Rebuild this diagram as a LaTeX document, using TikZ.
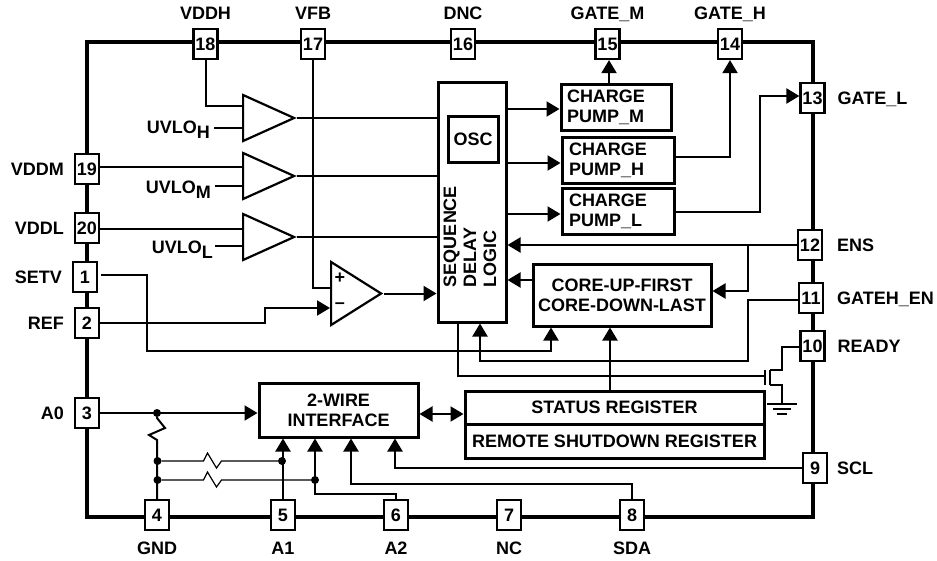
\documentclass[tikz,border=0pt]{standalone}
\usepackage{fontspec}
\setmainfont{Liberation Sans}
\usepackage{tikz}
\usetikzlibrary{shapes.geometric, arrows.meta, positioning}
\tikzstyle{chipbox} = [rectangle, minimum width=726pt, minimum height=475pt, draw=black, line width=3.2pt]
\tikzstyle{pinbox} = [rectangle, minimum width=24pt, minimum height=30pt, inner sep=0pt, text centered, draw=black, line width=2.2pt, fill=white]
\tikzstyle{pinlabel} = [inner sep=0pt, text height=13pt, text depth=0pt]
\tikzstyle{uvlolabel} = [inner sep=0pt, anchor=base east]
\tikzstyle{block} = [rectangle, inner sep=0pt, align=center, draw=black, line width=3pt, fill=white]
\tikzstyle{pumpblock} = [block, minimum width=110pt, minimum height=46pt, text width=98pt, align=left]
\tikzstyle{amp} = [isosceles triangle, isosceles triangle stretches, shape border rotate=0, minimum width=46pt, minimum height=51pt, inner sep=0pt, draw=black, line width=2.2pt, fill=white]
\tikzstyle{wire} = [line width=2pt]
\tikzstyle{thinwire} = [line width=1.2pt]
\tikzstyle{arrow} = [wire,-{Triangle[width=15pt,length=13pt]}]
\tikzstyle{dblarrow} = [wire,{Triangle[width=15pt,length=13pt]}-{Triangle[width=15pt,length=13pt]}]
\tikzstyle{dot} = [circle, minimum size=8pt, inner sep=0pt, fill=black]

\begin{document}
\begin{tikzpicture}[node distance=100pt, x=1pt, y=-1pt, font=\bfseries\fontsize{18}{20}\selectfont]
        \useasboundingbox (0,0) rectangle (937,560);
        \node (chip) [chipbox] at (450,279.5) {};

        \node (pin18) [pinbox] at (205.5,44) {18};
        \node (pin17) [pinbox, right of=pin18, xshift=7.5pt] {17};
        \node (pin16) [pinbox, right of=pin17, xshift=50pt] {16};
        \node (pin15) [pinbox, right of=pin16, xshift=44.5pt] {15};
        \node (pin14) [pinbox, right of=pin15, xshift=22.5pt] {14};
        \node (pin13) [pinbox, below of=pin14, xshift=82.5pt, yshift=46pt] {13};
        \node (pin12) [pinbox, below of=pin13, xshift=-2.5pt, yshift=-47pt] {12};
        \node (pin11) [pinbox, below of=pin12, xshift=1pt, yshift=47pt] {11};
        \node (pin10) [pinbox, below of=pin11, xshift=1.5pt, yshift=52pt] {10};
        \node (pin9) [pinbox, below of=pin10, xshift=2.5pt, yshift=-22pt] {9};
        \node (pin8) [pinbox, left of=pin9, xshift=-83pt, yshift=-47pt] {8};
        \node (pin7) [pinbox, left of=pin8, xshift=-23pt] {7};
        \node (pin6) [pinbox, left of=pin7, xshift=-13pt] {6};
        \node (pin5) [pinbox, left of=pin6, xshift=-13pt] {5};
        \node (pin4) [pinbox, left of=pin5, xshift=-26pt] {4};
        \node (pin3) [pinbox, above of=pin4, xshift=-70pt, yshift=2pt] {3};
        \node (pin2) [pinbox, above of=pin3, yshift=-10pt] {2};
        \node (pin1) [pinbox, above of=pin2, xshift=-2pt, yshift=-54pt] {1};
        \node (pin20) [pinbox, above of=pin1, xshift=2pt, yshift=-51pt] {20};
        \node (pin19) [pinbox, above of=pin20, yshift=-41pt] {19};

        \node (namevddh) [pinlabel, node distance=31pt, above of=pin18] {VDDH};
        \node (namevfb) [pinlabel, node distance=31pt, above of=pin17] {VFB};
        \node (namednc) [pinlabel, node distance=31pt, above of=pin16] {DNC};
        \node (namegatem) [pinlabel, node distance=31pt, above of=pin15] {GATE\_M};
        \node (namegateh) [pinlabel, node distance=31pt, above of=pin14] {GATE\_H};
        \node (namegatel) [pinlabel, node distance=25pt, right of=pin13, anchor=west] {GATE\_L};
        \node (nameens) [pinlabel, node distance=27pt, right of=pin12, anchor=west] {ENS};
        \node (namegatehen) [pinlabel, node distance=26pt, right of=pin11, anchor=west] {GATEH\_EN};
        \node (nameready) [pinlabel, node distance=25pt, right of=pin10, anchor=west] {READY};
        \node (namescl) [pinlabel, node distance=22pt, right of=pin9, anchor=west] {SCL};
        \node (namesda) [pinlabel, node distance=33pt, below of=pin8] {SDA};
        \node (namenc) [pinlabel, node distance=33pt, below of=pin7] {NC};
        \node (namea2) [pinlabel, node distance=33pt, below of=pin6] {A2};
        \node (namea1) [pinlabel, node distance=33pt, below of=pin5] {A1};
        \node (namegnd) [pinlabel, node distance=33pt, below of=pin4] {GND};
        \node (namea0) [pinlabel, node distance=23pt, left of=pin3, anchor=east] {A0};
        \node (nameref) [pinlabel, node distance=23pt, left of=pin2, anchor=east] {REF};
        \node (namesetv) [pinlabel, node distance=23pt, left of=pin1, anchor=east] {SETV};
        \node (namevddl) [pinlabel, node distance=23pt, left of=pin20, anchor=east] {VDDL};
        \node (namevddm) [pinlabel, node distance=23pt, left of=pin19, anchor=east] {VDDM};

        \node (seq) [block, minimum width=68pt, minimum height=240pt, below of=pin16, xshift=9pt, yshift=-58pt] {};
        \node (osc) [block, minimum width=50pt, minimum height=46pt, above of=seq, xshift=1pt, yshift=-37pt] {OSC};
        \node (seqlabel) [below of=osc, xshift=-3pt, yshift=2.5pt, rotate=90, inner sep=0pt, align=left] {SEQUENCE\\DELAY\\LOGIC};
        \node (pumpm) [pumpblock, right of=osc, xshift=43pt, yshift=31.5pt] {CHARGE\\PUMP\_M};
        \node (pumph) [pumpblock, minimum width=112pt, below of=pumpm, xshift=2pt, yshift=47.5pt] {CHARGE\\PUMP\_H};
        \node (pumpl) [pumpblock, minimum width=112pt, below of=pumph, yshift=49pt] {CHARGE\\PUMP\_L};
        \node (core) [block, minimum width=178pt, minimum height=62pt, below of=pumpl, xshift=4pt, yshift=16pt] {CORE-UP-FIRST\\CORE-DOWN-LAST};
        \node (statusreg) [block, minimum width=299pt, minimum height=33pt, below of=core, xshift=-7.5pt, yshift=-12.5pt] {STATUS REGISTER};
        \node (remotereg) [block, minimum width=299pt, minimum height=34pt, below of=statusreg, yshift=66.5pt] {REMOTE SHUTDOWN REGISTER};
        \node (twowire) [block, minimum width=159pt, minimum height=54pt, left of=statusreg, xshift=-176pt, yshift=-2.5pt] {2-WIRE\\INTERFACE};

        \node (amph) [amp, below of=pin18, xshift=36.5pt, yshift=26pt, anchor=lower side] {};
        \node (ampm) [amp, below of=amph, yshift=42pt] {};
        \node (ampl) [amp, below of=ampm, yshift=39pt] {};
        \node (comp) [amp, minimum width=63pt, minimum height=50pt, below of=pin17, xshift=17pt, yshift=-149.5pt, anchor=lower side] {};
        \node (plus) [inner sep=0pt] at ([xshift=10pt,yshift=15pt]comp.west) {+};
        \node (minus) [inner sep=0pt] at ([xshift=10pt,yshift=-12pt]comp.west) {--};

        \node (uvloh) [uvlolabel] at ([xshift=-32pt,yshift=-15pt]amph.west) {UVLO\raisebox{-5pt}{H}};
        \node (uvlom) [uvlolabel] at ([xshift=-31pt,yshift=-17pt]ampm.west) {UVLO\raisebox{-5pt}{M}};
        \node (uvlol) [uvlolabel] at ([xshift=-29pt,yshift=-16pt]ampl.west) {UVLO\raisebox{-5pt}{L}};

        \coordinate (amphhi) at ([yshift=12pt]amph.west);
        \coordinate (amphlo) at ([yshift=-10pt]amph.west);
        \coordinate (ampmhi) at ([yshift=9pt]ampm.west);
        \coordinate (ampmlo) at ([yshift=-10pt]ampm.west);
        \coordinate (amplhi) at ([yshift=8pt]ampl.west);
        \coordinate (ampllo) at ([yshift=-9pt]ampl.west);
        \coordinate (comphi) at ([yshift=5.5pt]comp.west);
        \coordinate (complo) at ([yshift=-14.5pt]comp.west);
        \coordinate (refjog) at ([xshift=-65pt]complo);
        \coordinate (setvturn) at (147,351);
        \coordinate (coresetv) at ([xshift=-71pt]core.south);
        \coordinate (gatehturn) at (748,361);
        \coordinate (ensturn) at (pin12 -| gatehturn);
        \coordinate (seqgateh) at ([xshift=8pt]seq.south);
        \coordinate (seqfet) at ([xshift=-14pt]seq.south);
        \coordinate (fetgate) at (765,376);
        \coordinate (fetgatetop) at (765,370);
        \coordinate (fetgatebot) at (765,385);
        \coordinate (fetdrain) at (770,370);
        \coordinate (fetsource) at (770,385);
        \coordinate (fetup) at (782,347);
        \coordinate (fetgnd) at (782,404);
        \coordinate (lturn) at (760,96);
        \coordinate (a2turn) at (315,494);
        \coordinate (sdaturn) at (351,484);
        \coordinate (sclin) at ([xshift=56.5pt]twowire.south);

        \node (dota0) [dot] at (pin3 -| pin4) {};
        \node (dotr1) [dot] at (157.5,461) {};
        \node (dotr2) [dot] at (157.5,480) {};
        \node (dota1) [dot] at (282,461) {};
        \node (dota2) [dot] at (315,480) {};

        \draw [wire] (pin18) |- (amphhi);
        \draw [wire] ([xshift=4pt]uvloh.east |- amphlo) -- (amphlo);
        \draw [wire] (pin19.east |- ampmhi) -- (ampmhi);
        \draw [wire] ([xshift=4pt]uvlom.east |- ampmlo) -- (ampmlo);
        \draw [wire] (pin20.east |- amplhi) -- (amplhi);
        \draw [wire] ([xshift=2pt]uvlol.east |- ampllo) -- (ampllo);
        \draw [wire] (amph.apex) -- (amph.apex -| seq.west);
        \draw [wire] (ampm.apex) -- (ampm.apex -| seq.west);
        \draw [wire] (ampl.apex) -- (ampl.apex -| seq.west);
        \draw [wire] (pin17) |- (comphi);
        \draw [arrow] (pin2) -| (refjog) -- (complo);
        \draw [arrow] (comp.apex) -- (comp.apex -| seq.west);
        \draw [arrow] ([xshift=3pt,yshift=2pt]pin1.east) -| (setvturn) -| (coresetv);
        \draw [arrow] ([yshift=-2pt]pin11.west) -| (gatehturn) -| (seqgateh);
        \draw [arrow] (pin12) -- (pin12 -| seq.east);
        \draw [arrow] (ensturn) |- ([yshift=4pt]core.east);
        \draw [arrow] ([yshift=15pt]core.west) -- ([yshift=15pt]core.west -| seq.east);
        \draw [wire] (seqfet) |- (fetgate);
        \draw [wire] (fetgatetop) -- (fetgatebot);
        \draw [wire] (fetdrain) -- (fetsource);
        \draw [wire] (fetdrain) -| (fetup) -- (fetup -| pin10.west);
        \draw [wire] (fetsource) -| (fetgnd);
        \draw [wire] ([xshift=-15pt]fetgnd) -- ([xshift=15pt]fetgnd);
        \draw [wire] ([xshift=-9pt,yshift=-5pt]fetgnd) -- ([xshift=9pt,yshift=-5pt]fetgnd);
        \draw [wire] ([xshift=-5pt,yshift=-10pt]fetgnd) -- ([xshift=5pt,yshift=-10pt]fetgnd);
        \draw [arrow] ([xshift=-4.5pt]statusreg.north) -- ([xshift=-4.5pt]statusreg.north |- core.south);
        \draw [dblarrow] ([yshift=-4pt]twowire.east) -- ([yshift=-4pt]twowire.east -| statusreg.west);
        \draw [arrow] ([yshift=-1.5pt]pumpm.west -| seq.east) -- ([yshift=-1.5pt]pumpm.west);
        \draw [arrow] ([yshift=-3pt]pumph.west -| seq.east) -- ([yshift=-3pt]pumph.west);
        \draw [arrow] ([yshift=-3pt]pumpl.west -| seq.east) -- ([yshift=-3pt]pumpl.west);
        \draw [arrow] ([xshift=-7pt]pumpm.north) -- ([xshift=-7pt]pumpm.north |- pin15.south);
        \draw [arrow] ([yshift=3pt]pumph.east) -| (pin14.south);
        \draw [arrow] ([yshift=-1pt]pumpl.east) -| (lturn) -- (lturn -| pin13.west);
        \draw [arrow] (pin3) -- (pin3 -| twowire.west);
        \draw [wire] (dota0) -- ++(0,5) -- ++(8,10) -- ++(-16,7) -- ++(8,5) -- (pin4);
        \draw [thinwire] (dotr1) -- ++(46,0) -- ++(4,-8) -- ++(9,15) -- ++(5,-7) -- (dota1);
        \draw [thinwire] (dotr2) -- ++(46,0) -- ++(4,-8) -- ++(9,15) -- ++(5,-7) -- (dota2);
        \draw [arrow] (pin5) -- (pin5 |- twowire.south);
        \draw [arrow] (pin6.north) |- (a2turn) -- (a2turn |- twowire.south);
        \draw [arrow] (pin8.north) |- (sdaturn) -- (sdaturn |- twowire.south);
        \draw [arrow] (pin9) -| (sclin);
 \end{tikzpicture}
\end{document}
